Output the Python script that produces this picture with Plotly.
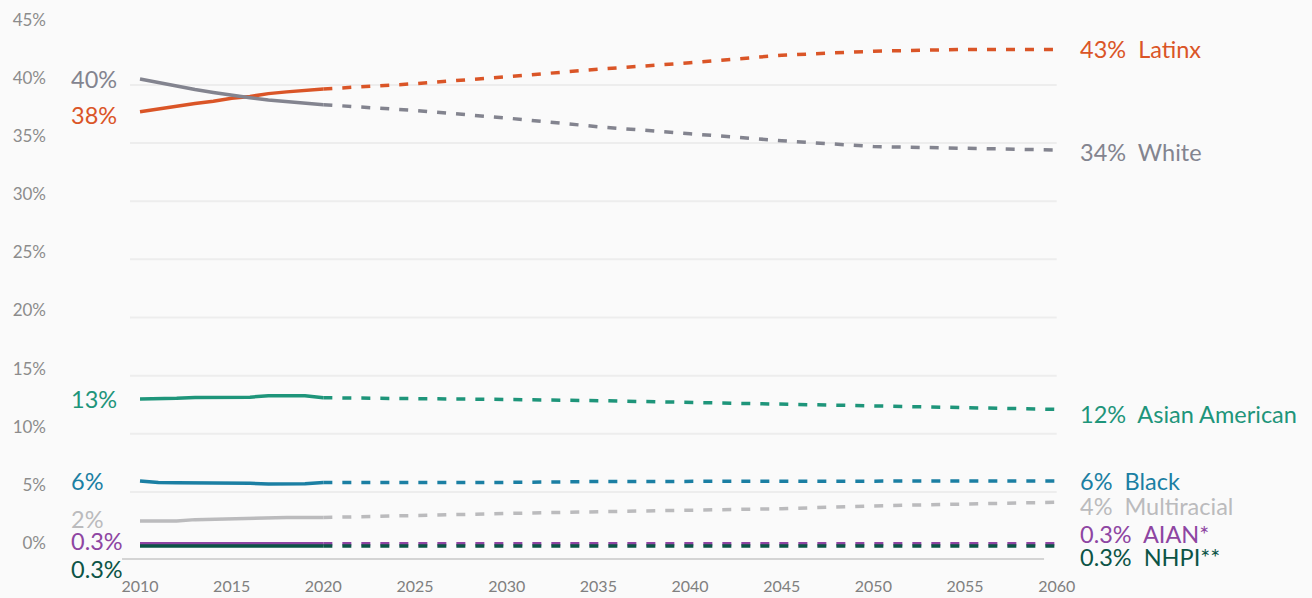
import plotly.graph_objects as go

# ---------------- data ----------------
years_hist = [2010, 2011, 2012, 2013, 2014, 2015, 2016, 2017, 2018, 2019, 2020]
years_proj = [2020, 2025, 2030, 2035, 2040, 2045, 2050, 2055, 2060]

latinx_hist = [37.7, 37.95, 38.2, 38.4, 38.6, 38.85, 39.0, 39.25, 39.4, 39.55, 39.65]
latinx_proj = [39.65, 40.1, 40.7, 41.35, 41.9, 42.55, 42.9, 43.05, 43.05]

white_hist = [40.5, 40.2, 39.85, 39.6, 39.35, 39.1, 38.9, 38.7, 38.55, 38.4, 38.3]
white_proj = [38.3, 37.8, 37.15, 36.4, 35.8, 35.2, 34.7, 34.55, 34.4]

asian_hist = [13.0, 13.0, 13.05, 13.12, 13.12, 13.12, 13.15, 13.28, 13.3, 13.28, 13.1]
asian_proj = [13.1, 13.05, 12.95, 12.85, 12.7, 12.55, 12.4, 12.25, 12.1]

black_hist = [5.95, 5.82, 5.8, 5.8, 5.8, 5.8, 5.75, 5.68, 5.67, 5.7, 5.82]
black_proj = [5.82, 5.82, 5.82, 5.9, 5.92, 5.93, 5.94, 5.95, 5.95]

multi_hist = [2.5, 2.47, 2.5, 2.62, 2.66, 2.68, 2.72, 2.8, 2.8, 2.8, 2.8]
multi_proj = [2.8, 3.0, 3.15, 3.3, 3.42, 3.56, 3.8, 3.97, 4.12]

aian_hist = [0.55, 0.55, 0.55, 0.55, 0.55, 0.55, 0.55, 0.55, 0.55, 0.55, 0.55]
aian_proj = [0.55, 0.55, 0.55, 0.55, 0.55, 0.55, 0.55, 0.55, 0.55]

nhpi_hist = [0.35, 0.35, 0.35, 0.35, 0.35, 0.35, 0.35, 0.35, 0.35, 0.35, 0.35]
nhpi_proj = [0.35, 0.35, 0.35, 0.35, 0.35, 0.35, 0.35, 0.35, 0.35]

group_names = ["Multiracial", "Black", "Asian American", "Latinx", "White", "AIAN*", "NHPI**"]
start_labels = ["2%", "6%", "13%", "38%", "40%", "0.3%", "0.3%"]
end_labels = ["4%", "6%", "12%", "43%", "34%", "0.3%", "0.3%"]
hist_series = [multi_hist, black_hist, asian_hist, latinx_hist, white_hist, aian_hist, nhpi_hist]
proj_series = [multi_proj, black_proj, asian_proj, latinx_proj, white_proj, aian_proj, nhpi_proj]

y_ticks = [0, 5, 10, 15, 20, 25, 30, 35, 40, 45]
y_ticktext = ["0%", "5%", "10%", "15%", "20%", "25%", "30%", "35%", "40%", "45%"]
grid_vals = [5, 10, 15, 20, 25, 30, 35, 40]
x_ticks = [2010, 2015, 2020, 2025, 2030, 2035, 2040, 2045, 2050, 2055, 2060]

# ---------------- style ----------------
colors = ["#BBBBBD", "#1B7FA3", "#1E957A", "#DA5527", "#83848F", "#8E45A2", "#0C5446"]
start_yshift = [2, 0, 0, -3, 0, 3, -23]
end_yshift = [-3.5, 0, -4.5, 0, -2, 9.5, -11]
FONT = "Lato, 'Open Sans', sans-serif"
BG = "#FAFAFA"

fig = go.Figure()

for name, col, h, p in zip(group_names, colors, hist_series, proj_series):
    fig.add_trace(go.Scatter(x=years_hist, y=h, mode="lines", name=name,
                             line=dict(color=col, width=3.5), hoverinfo="skip",
                             showlegend=False))
    fig.add_trace(go.Scatter(x=years_proj, y=p, mode="lines", name=name,
                             line=dict(color=col, width=3.5, dash="9px,10px"),
                             hoverinfo="skip", showlegend=False))

annotations = []
for name, col, h, p, sl, el, sy, ey in zip(group_names, colors, hist_series, proj_series,
                                          start_labels, end_labels, start_yshift, end_yshift):
    annotations.append(dict(x=years_hist[0], y=h[0], xref="x", yref="y", text=sl,
                            showarrow=False, xanchor="left", yanchor="middle",
                            xshift=-71, yshift=sy,
                            font=dict(family=FONT, size=23.5, color=col)))
    annotations.append(dict(x=years_proj[-1], y=p[-1], xref="x", yref="y",
                            text=el + "\u00a0\u00a0" + name,
                            showarrow=False, xanchor="left", yanchor="middle",
                            xshift=21, yshift=ey,
                            font=dict(family=FONT, size=23.5, color=col)))

shapes = []
for g in grid_vals:
    shapes.append(dict(type="line", xref="x", yref="y", x0=2009.455, x1=2060.0, y0=g, y1=g,
                       line=dict(color="#EDEDED", width=2), layer="below"))
shapes.append(dict(type="line", xref="x", yref="paper", x0=2009.02, x1=2059.31, y0=0, y1=0,
                   line=dict(color="#D4D4D4", width=2), layer="below"))

fig.update_layout(
    width=1312, height=598,
    paper_bgcolor=BG, plot_bgcolor=BG,
    margin=dict(l=120, r=240, t=15, b=39, pad=0, autoexpand=False),
    font=dict(family=FONT),
    showlegend=False,
    annotations=annotations,
    shapes=shapes,
    hovermode=False,
)
fig.update_xaxes(range=[2008.909, 2060.834], tickvals=x_ticks, showgrid=False, zeroline=False,
                 showline=False, ticks="", ticklabelstandoff=16, automargin=False,
                 tickfont=dict(family=FONT, size=16, color="#808080"))
fig.update_yaxes(range=[-0.765, 46.01], tickvals=y_ticks, ticktext=y_ticktext, showgrid=False,
                 zeroline=False, showline=False, ticks="", ticklabelstandoff=73,
                 ticklabelshift=-7, automargin=False,
                 tickfont=dict(family=FONT, size=17, color="#8C8C8C"))

fig.write_html(
    "out.html",
    config={"staticPlot": True},
    post_script="document.body.style.margin='0';document.body.style.padding='0';"
                "document.body.style.background='#FAFAFA';document.body.style.overflow='hidden';",
)
